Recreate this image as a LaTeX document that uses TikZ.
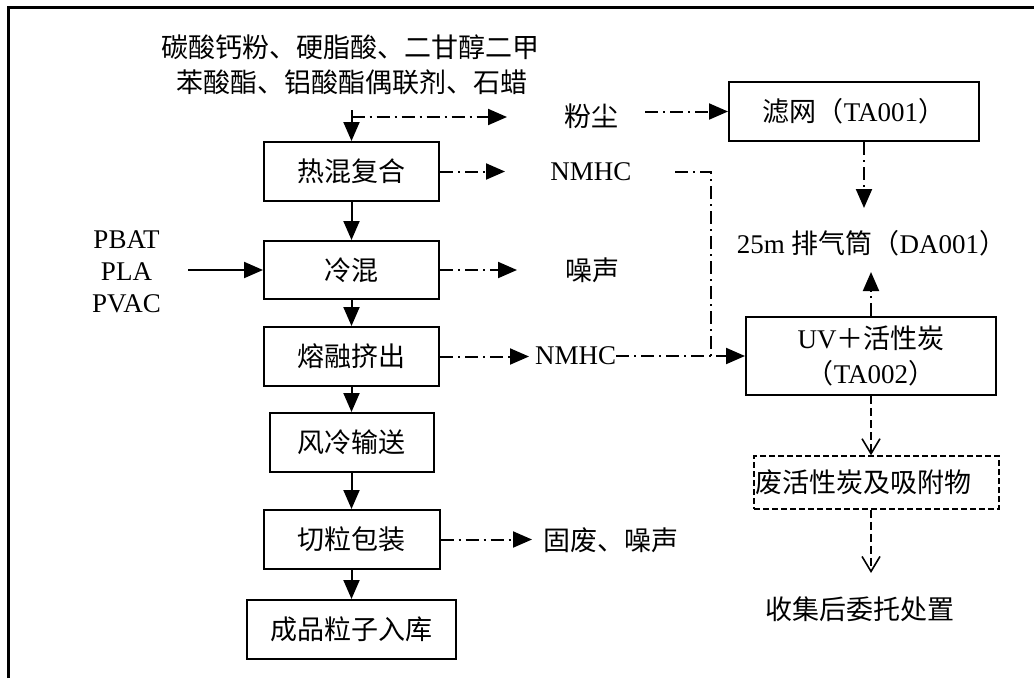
\documentclass[tikz,border=0pt]{standalone}
\usepackage{fontspec}
\setmainfont{Liberation Serif}
\newfontfamily\cjk{Noto Sans CJK SC}
\usetikzlibrary{arrows.meta}
\newcommand{\fsz}{\fontsize{27}{32}\selectfont}
\begin{document}
\begin{tikzpicture}[x=1pt,y=-1pt,
  box/.style={draw,line width=2pt,inner sep=0pt,font=\fsz\cjk},
  lbl/.style={inner sep=0pt,font=\fsz},
  solidarr/.style={line width=2pt,-{Triangle[length=19pt,width=16pt]}},
  ddarr/.style={line width=2pt,dash pattern=on 13pt off 5pt on 2pt off 5pt,-{Triangle[length=19pt,width=16pt]}},
  ddline/.style={line width=2pt,dash pattern=on 13pt off 5pt on 2pt off 5pt},
  vdash/.style={line width=1.6pt,dash pattern=on 8pt off 4pt,-{Straight Barb[length=15pt,width=18pt]}},
]
\useasboundingbox (0,0) rectangle (1034,678);
\draw[line width=3pt] (8,678) -- (8,7) -- (1034,7);

% input text
\node[lbl,font=\fsz\cjk] (l1) at (350.5,47) {碳酸钙粉、硬脂酸、二甘醇二甲};
\node[lbl,font=\fsz\cjk] (l2) at (352,82) {苯酸酯、铝酸酯偶联剂、石蜡};

% main column
\node[box,minimum width=175,minimum height=59] (b1) at (351.5,171.5) {热混复合};
\node[box,minimum width=175,minimum height=58] (b2) at (351.5,270) {冷混};
\node[box,minimum width=175,minimum height=59] (b3) at (351.5,356.5) {熔融挤出};
\node[box,minimum width=164,minimum height=59] (b4) at (351.5,442.5) {风冷输送};
\node[box,minimum width=176,minimum height=59] (b5) at (351.5,539.5) {切粒包装};
\node[box,minimum width=209,minimum height=59] (b6) at (351.5,629.5) {成品粒子入库};

\coordinate (in0) at (351.5,110);
\draw[solidarr] (in0) -- (b1.north);
\draw[solidarr] (b1.south) -- (b2.north);
\draw[solidarr] (b2.south) -- (b3.north);
\draw[solidarr] (b3.south) -- (b4.north);
\draw[solidarr] (b4.south) -- (b5.north);
\draw[solidarr] (b5.south) -- (b6.north);

% raw materials
\node[lbl,align=center] (raw) at (126.5,272) {PBAT\\PLA\\PVAC};
\coordinate (r0) at (188,270);
\draw[solidarr] (r0) -- (b2.west);

% right boxes
\node[box,minimum width=250,minimum height=59] (tA) at (854,111.5) {滤网（{\rmfamily TA001}）};
\node[box,minimum width=250,minimum height=78,align=center,font=\fontsize{27}{35}\selectfont] (tB) at (871,356) {UV{\cjk ＋活性炭}\\{\cjk （}TA002{\cjk ）}};
\node[draw,line width=1.5pt,dash pattern=on 6pt off 3pt,minimum width=245,minimum height=53,inner sep=1pt,text width=243,align=left,font=\fsz\cjk] (wbox) at (876.5,482.5) {废活性炭及吸附物};

% labels
\node[lbl,font=\fsz\cjk] (dust) at (591,116) {粉尘};
\node[lbl] (nm1) at (591,172) {NMHC};
\node[lbl,font=\fsz\cjk] (noise) at (592,270) {噪声};
\node[lbl,anchor=west] (nm2) at (535,356) {NMHC};
\node[lbl,anchor=west,font=\fsz\cjk] (sw) at (543,540) {固废、噪声};
\node[lbl] (stack) at (871.5,243) {25m {\cjk 排气筒（}DA001{\cjk ）}};
\node[lbl,font=\fsz\cjk] (disp) at (860,609) {收集后委托处置};

% dash-dot emissions
\coordinate (d0) at (351.5,117);
\coordinate (d0e) at (507,117);
\draw[ddarr] (d0) -- (d0e);
\coordinate (d1) at (645,111.5);
\draw[ddarr] (d1) -- (tA.west);

\coordinate (e1) at (505,171.5);
\draw[ddarr] (b1.east) -- (e1);
\coordinate (n1s) at (675,172);
\coordinate (jn) at (711,356);
\draw[ddline] (n1s) -| (jn);

\coordinate (e2) at (517,270);
\draw[ddarr] (b2.east) -- (e2);

\coordinate (e3) at (529,356.5);
\draw[ddarr] (b3.east) -- (e3);
\draw[ddarr] (nm2.east) -- (tB.west);

\coordinate (e5) at (532,539.5);
\draw[ddarr] (b5.east) -- (e5);

\coordinate (s1) at (864,208);
\draw[ddarr] (tA.south -| s1) -- (s1);
\coordinate (s2) at (871,272);
\draw[ddarr] (tB.north) -- (s2);

\draw[vdash] (tB.south) -- (tB.south |- wbox.north);
\coordinate (s3) at (871,573);
\draw[vdash] (tB.south |- wbox.south) -- (s3);
\end{tikzpicture}
\end{document}
